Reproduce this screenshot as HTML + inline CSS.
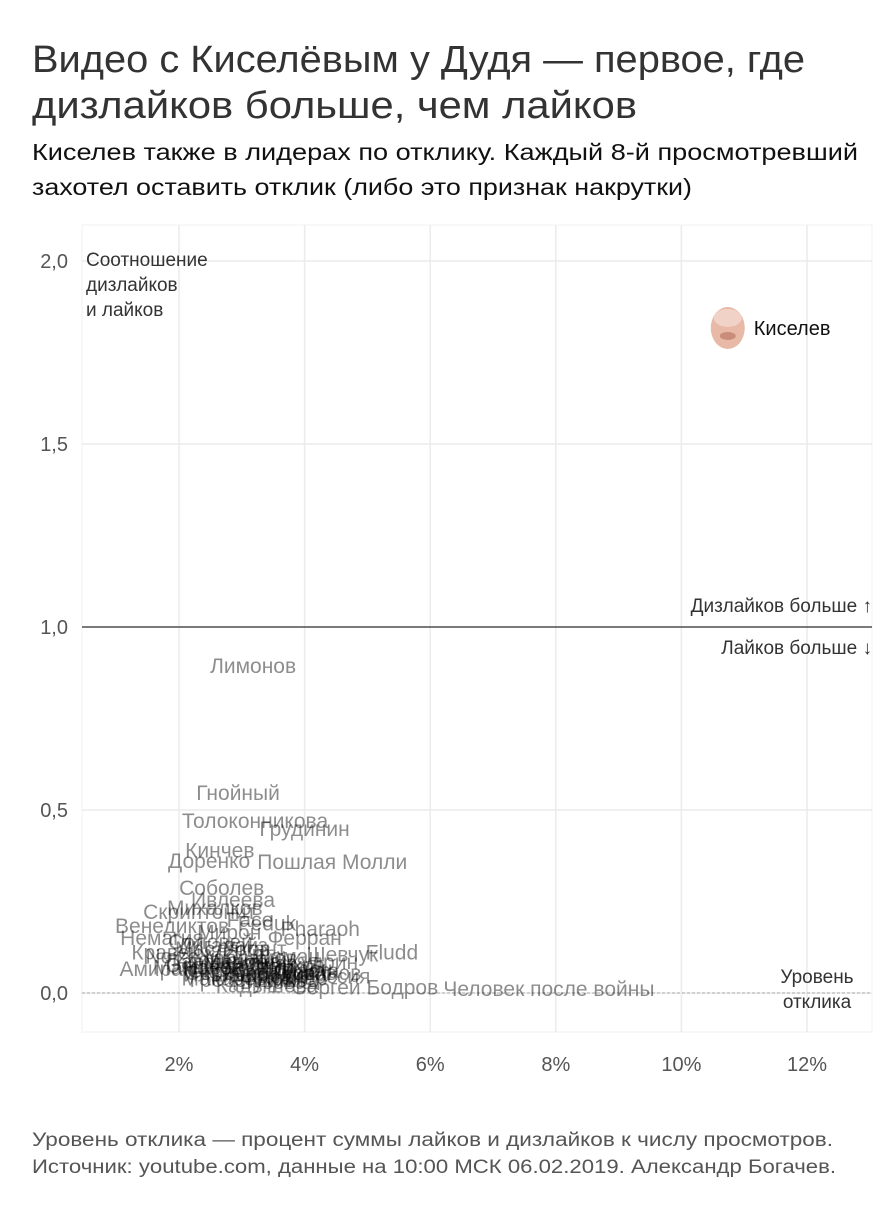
<!DOCTYPE html>
<html><head><meta charset="utf-8"><style>
html,body{margin:0;padding:0;background:#fff;}
svg{display:block;font-family:"Liberation Sans","DejaVu Sans",sans-serif;}
</style></head><body>
<svg id="chart" width="896" height="1207" viewBox="0 0 896 1207" xmlns="http://www.w3.org/2000/svg">
<text x="32" y="72" font-size="38" fill="#333" textLength="773" lengthAdjust="spacingAndGlyphs">Видео с Киселёвым у Дудя — первое, где</text>
<text x="32" y="118" font-size="38" fill="#333" textLength="605" lengthAdjust="spacingAndGlyphs">дизлайков больше, чем лайков</text>
<text x="32" y="160" font-size="23" fill="#111" textLength="826" lengthAdjust="spacingAndGlyphs">Киселев также в лидерах по отклику. Каждый 8-й просмотревший</text>
<text x="32" y="195" font-size="23" fill="#111" textLength="660" lengthAdjust="spacingAndGlyphs">захотел оставить отклик (либо это признак накрутки)</text>
<g id="grid"></g>
<g id="axes"></g>
<g id="labels"></g>
<text font-size="19" fill="#333"><tspan x="86" y="266">Соотношение</tspan><tspan x="86" y="291">дизлайков</tspan><tspan x="86" y="316">и лайков</tspan></text>
<text x="872" y="612" font-size="19" fill="#333" text-anchor="end">Дизлайков больше ↑</text>
<text x="872" y="654" font-size="19" fill="#333" text-anchor="end">Лайков больше ↓</text>
<text font-size="19" fill="#333" text-anchor="middle"><tspan x="817" y="983">Уровень</tspan><tspan x="817" y="1008">отклика</tspan></text>
<text x="32" y="1146" font-size="19" fill="#555" textLength="801" lengthAdjust="spacingAndGlyphs">Уровень отклика — процент суммы лайков и дизлайков к числу просмотров.</text>
<text x="32" y="1173" font-size="19" fill="#555" textLength="804" lengthAdjust="spacingAndGlyphs">Источник: youtube.com, данные на 10:00 МСК 06.02.2019. Александр Богачев.</text>
</svg>
<script>
const xTicks = [2, 4, 6, 8, 10, 12];
const xTickLabels = ["2%", "4%", "6%", "8%", "10%", "12%"];
const yTicks = [0, 0.5, 1, 1.5, 2];
const yTickLabels = ["0,0", "0,5", "1,0", "1,5", "2,0"];
const names = ["Лимонов","Гнойный","Толоконникова","Грудинин","Кинчев","Доренко","Пошлая Молли","Соболев","Ивлеева","Михалков","Скриптонит","Face","Венедиктов","Немагия","Pharaoh","Ферран","Fludd","Сергей Бодров","Человек после войны","Амиран","Ильич","Кравец","Хованский","Собчак","Шнуров","Баста","Noize MC","Оксимирон","Хаски","Элджей","Лигалайз","Познер","Ургант","Навальный","Россия","Feduk","Мирон","Шаман","Панин","Кудрин","Серебренников","Парфенов","Гордон","Макаревич","Бузова","Харламов","Мамонов","Тиньков","Гребенщиков","Гусейнов","Масляков","Кадышева","Манижа","Бородина","Соловей","Шевчук"];
const responseRate = [3.18,2.94,3.21,4.0,2.65,2.48,4.44,2.68,2.86,2.57,2.33,3.13,1.89,1.73,4.25,4.0,5.39,4.96,7.89,1.65,2.55,1.8,2.9,3.3,3.6,4.1,2.2,3.0,3.5,2.4,2.7,3.8,3.2,2.95,4.5,3.4,2.8,3.7,3.05,4.3,3.3,2.6,3.9,2.9,3.5,3.1,2.3,3.7,3.2,4.2,2.7,3.4,3.0,3.6,2.5,4.6];
const dislikeRatio = [0.893,0.546,0.47,0.448,0.39,0.36,0.358,0.287,0.254,0.232,0.221,0.2,0.183,0.15,0.175,0.15,0.11,0.015,0.011,0.065,0.05,0.11,0.09,0.08,0.07,0.06,0.1,0.06,0.045,0.075,0.13,0.04,0.12,0.07,0.045,0.19,0.165,0.1,0.05,0.085,0.055,0.085,0.065,0.04,0.03,0.095,0.07,0.075,0.035,0.055,0.12,0.02,0.085,0.05,0.14,0.105];
const leaderName = ["Киселев"];
const leaderRate = [10.77];
const leaderRatio = [1.817];

const NS = "http://www.w3.org/2000/svg";
const X0 = 82, X1 = 872, YT = 225, YB = 1032;
function xs(v){ return 179 + (v - 2) * 62.8; }
function ys(v){ return 993 - v * 366; }
function mk(tag, attrs, parent){ const e = document.createElementNS(NS, tag); for (const k in attrs) e.setAttribute(k, attrs[k]); parent.appendChild(e); return e; }
const grid = document.getElementById('grid'), axes = document.getElementById('axes'), labels = document.getElementById('labels');
mk('rect', {x:X0, y:YT, width:X1-X0, height:YB-YT, fill:'none', stroke:'#f0f0f0'}, grid);
xTicks.forEach((t,i) => {
  const l = mk('line', {x1:xs(t), x2:xs(t), y1:YT, y2:YB, stroke:'#ebebeb', 'stroke-width':1.5}, grid);
  
  
  const tx = mk('text', {x:xs(t), y:1071, 'font-size':20, fill:'#555', 'text-anchor':'middle'}, axes);
  
  
  tx.textContent = xTickLabels[i];
});
yTicks.forEach((t,i) => {
  const l = mk('line', {x1:X0, x2:X1, y1:ys(t), y2:ys(t), stroke:'#ebebeb', 'stroke-width':1.5}, grid);
  
  
  const tx = mk('text', {x:68, y:ys(t)+7, 'font-size':20, fill:'#555', 'text-anchor':'end'}, axes);
  
  
  tx.textContent = yTickLabels[i];
});
const ref = mk('line', {x1:X0, x2:X1, y1:ys(1), y2:ys(1), stroke:'#000', 'stroke-width':1}, axes);


const zero = mk('line', {x1:X0, x2:X1, y1:ys(0), y2:ys(0), stroke:'#aaa', 'stroke-width':1, 'stroke-dasharray':'3,2'}, axes);


names.forEach((n,i) => {
  const t = mk('text', {x:xs(responseRate[i]), y:ys(dislikeRatio[i])+7, 'font-size':21, fill:'rgba(0,0,0,0.45)', 'text-anchor':'middle'}, labels);
  
  
  t.textContent = n;
});
leaderName.forEach((n,i) => {
  const cx = xs(leaderRate[i]), cy = ys(leaderRatio[i]);
  const g = mk('g', {}, labels);
  
  
  mk('ellipse', {cx:cx-2, cy:cy, rx:17, ry:21, fill:'#e7b9a6'}, g);
  mk('ellipse', {cx:cx-2, cy:cy-10, rx:14, ry:9, fill:'#f1d2c6'}, g);
  mk('ellipse', {cx:cx-2, cy:cy+8, rx:8, ry:4, fill:'#c98d7a'}, g);
  const t = mk('text', {x:cx+24, y:cy+7, 'font-size':20, fill:'#111'}, labels);
  
  
  t.textContent = n;
});
</script>
</body></html>
